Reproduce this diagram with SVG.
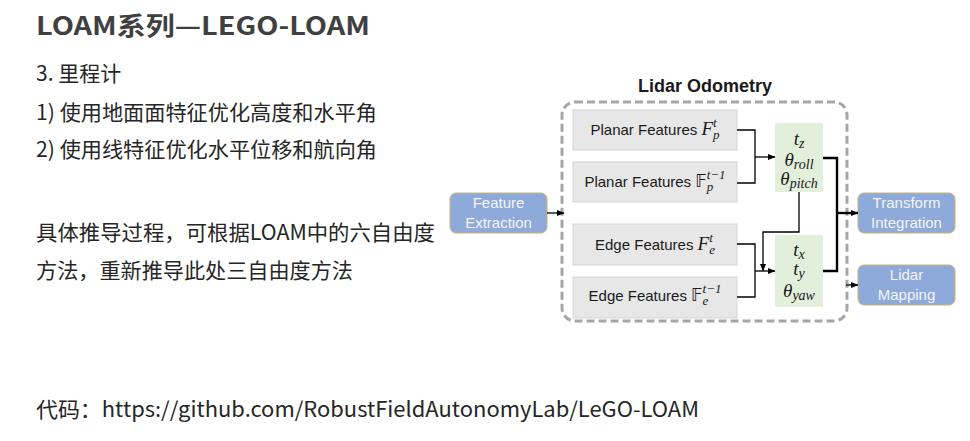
<svg xmlns="http://www.w3.org/2000/svg" width="970" height="441" viewBox="0 0 970 441">
<defs>
<marker id="ah" viewBox="0 0 8 8" refX="7.5" refY="4" markerWidth="8" markerHeight="8" markerUnits="userSpaceOnUse" orient="auto">
<path d="M0,0.8 L8,4 L0,7.2 Z" fill="#000"/>
</marker>
<style>
.cjk{font-family:"Noto Sans CJK SC","Noto Sans",sans-serif;fill:#262626}
.ttl{font-family:"Noto Sans CJK SC","Noto Sans",sans-serif;font-weight:bold;fill:#404040}
.blue{fill:#8eaadb;stroke:#c8b46e;stroke-width:1}
.blt{font-family:"Liberation Sans",Arial,sans-serif;font-size:15px;fill:#f4f4f4;text-anchor:middle}
.gray{fill:#e7e7e7;stroke:#d4d4d4;stroke-width:1}
.gt{font-family:"Liberation Sans",Arial,sans-serif;font-size:15px;fill:#1a1a1a;text-anchor:middle}
.m{font-family:"Liberation Serif","Times New Roman",serif;font-style:italic}
.ds{font-family:"DejaVu Sans",sans-serif;font-style:normal}
.green{fill:#e2efda;stroke:none}
.mt{font-family:"Liberation Serif","Times New Roman",serif;font-style:italic;font-size:19px;fill:#1a1a1a;text-anchor:middle}
.ln{fill:none;stroke:#000;stroke-width:1.3}
.thk{fill:none;stroke:#000;stroke-width:2.4}
</style>
</defs>

<g id="text-left">
<text class="ttl" x="36" y="35" font-size="25" textLength="334" lengthAdjust="spacingAndGlyphs">LOAM系列—LEGO-LOAM</text>
<text class="cjk" x="36" y="81" font-size="21">3. 里程计</text>
<text class="cjk" x="36" y="120" font-size="21" textLength="341" lengthAdjust="spacingAndGlyphs">1) 使用地面面特征优化高度和水平角</text>
<text class="cjk" x="36" y="157" font-size="21" textLength="341" lengthAdjust="spacingAndGlyphs">2) 使用线特征优化水平位移和航向角</text>
<text class="cjk" x="36" y="240" font-size="21" textLength="399" lengthAdjust="spacingAndGlyphs">具体推导过程，可根据LOAM中的六自由度</text>
<text class="cjk" x="36" y="278" font-size="21" textLength="317" lengthAdjust="spacingAndGlyphs">方法，重新推导此处三自由度方法</text>
<text class="cjk" x="36" y="417" font-size="21" textLength="663" lengthAdjust="spacingAndGlyphs">代码：https://github.com/RobustFieldAutonomyLab/LeGO-LOAM</text>
</g>

<g id="lidar-odometry">
<rect x="562" y="102" width="285" height="219" rx="13" fill="none" stroke="#a6a6a6" stroke-width="3" stroke-dasharray="8,4"/>
<text x="705" y="92" font-family="Liberation Sans,Arial,sans-serif" font-weight="bold" font-size="18" fill="#1a1a1a" text-anchor="middle">Lidar Odometry</text>
</g>

<g id="feature-extraction">
<rect class="blue" x="450" y="193" width="97" height="40" rx="6"/>
<text class="blt" x="498.5" y="208">Feature</text>
<text class="blt" x="498.5" y="228">Extraction</text>
</g>

<g id="planar-t">
<rect class="gray" x="573" y="110" width="164" height="40"/>
<text class="gt" x="655" y="135">Planar Features <tspan class="m" font-size="19">F</tspan><tspan class="m" font-size="13" dy="4">p</tspan><tspan class="m" font-size="13" dx="-6.5" dy="-12">t</tspan></text>
</g>

<g id="planar-t1">
<rect class="gray" x="573" y="162" width="164" height="40"/>
<text class="gt" x="655" y="187">Planar Features <tspan class="ds" font-size="17">𝔽</tspan><tspan class="m" font-size="13" dy="4">p</tspan><tspan class="m" font-size="13" dx="-6.5" dy="-12">t−1</tspan></text>
</g>

<g id="edge-t">
<rect class="gray" x="573" y="224" width="164" height="41"/>
<text class="gt" x="655" y="250">Edge Features <tspan class="m" font-size="19">F</tspan><tspan class="m" font-size="13" dy="4">e</tspan><tspan class="m" font-size="13" dx="-5.8" dy="-12">t</tspan></text>
</g>

<g id="edge-t1">
<rect class="gray" x="573" y="277" width="164" height="41"/>
<text class="gt" x="655" y="301">Edge Features <tspan class="ds" font-size="17">𝔽</tspan><tspan class="m" font-size="13" dy="4">e</tspan><tspan class="m" font-size="13" dx="-5.8" dy="-12">t−1</tspan></text>
</g>

<g id="opt-z-roll-pitch">
<rect class="green" x="775" y="123" width="48" height="69"/>
<text class="mt" x="799" y="145">t<tspan font-size="14" dy="3">z</tspan></text>
<text class="mt" x="799" y="166">θ<tspan font-size="14" dy="3">roll</tspan></text>
<text class="mt" x="799" y="185">θ<tspan font-size="14" dy="3">pitch</tspan></text>
</g>

<g id="opt-x-y-yaw">
<rect class="green" x="775" y="235" width="48" height="72"/>
<text class="mt" x="799" y="256">t<tspan font-size="14" dy="3">x</tspan></text>
<text class="mt" x="799" y="275">t<tspan font-size="14" dy="3">y</tspan></text>
<text class="mt" x="799" y="297">θ<tspan font-size="14" dy="3">yaw</tspan></text>
</g>

<g id="transform-integration">
<rect class="blue" x="858" y="193" width="97" height="40" rx="6"/>
<text class="blt" x="906.5" y="208">Transform</text>
<text class="blt" x="906.5" y="228">Integration</text>
</g>

<g id="lidar-mapping">
<rect class="blue" x="858" y="265" width="97" height="40" rx="6"/>
<text class="blt" x="906.5" y="280">Lidar</text>
<text class="blt" x="906.5" y="300">Mapping</text>
</g>

<g id="connectors">
<line class="ln" x1="547" y1="213" x2="564" y2="213" marker-end="url(#ah)"/>
<polyline class="ln" points="737,130 755,130 755,183 737,183"/>
<line class="ln" x1="755" y1="157" x2="775" y2="157" marker-end="url(#ah)"/>
<polyline class="ln" points="737,244 755,244 755,297 737,297"/>
<line class="ln" x1="755" y1="271" x2="775" y2="271" marker-end="url(#ah)"/>
<polyline class="ln" points="799,192 799,232 763,232 763,271" marker-end="url(#ah)"/>
<polyline class="thk" points="823,158 837,158 837,271 823,271"/>
<line class="thk" x1="837" y1="213" x2="858" y2="213" marker-end="url(#ah)"/>
<line class="ln" x1="846" y1="285" x2="858" y2="285" marker-end="url(#ah)"/>
</g>
</svg>
